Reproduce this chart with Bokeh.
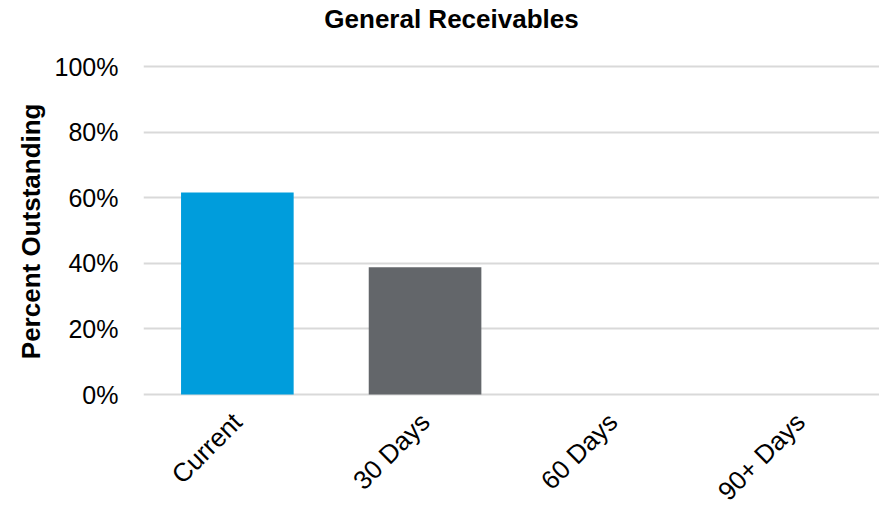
from bokeh.plotting import figure
from bokeh.models import (Range1d, FixedTicker, NumeralTickFormatter, ColumnDataSource, Title,
                          Label, GlobalInlineStyleSheet)
from bokeh.core.properties import value
from bokeh.embed import file_html
from bokeh.resources import INLINE
import math

title_text = "General Receivables"
y_label = "Percent Outstanding"
categories = ["Current", "30 Days", "60 Days", "90+ Days"]
values = [0.616, 0.388, 0.0, 0.0]
colors = ["#009DDC", "#63666A", "#63666A", "#63666A"]
y_ticks = [0, 0.2, 0.4, 0.6, 0.8, 1.0]

xs = list(range(len(categories)))
src = ColumnDataSource(dict(x=xs, top=values, color=colors, cat=categories, base=[0] * len(xs)))

W, H = 879, 505
PX = 328.0  # pixels per unit of y
p = figure(width=W, height=H, output_backend="svg", toolbar_location=None,
           x_range=Range1d(-0.5, -0.5 + 736 / 187.7),
           y_range=Range1d(-(H - 394) / PX, 1 + 66 / PX),
           min_border_left=143, min_border_right=0, min_border_top=0, min_border_bottom=0)
p.stylesheets = [GlobalInlineStyleSheet(css="html, body { overflow: hidden; margin: 0; padding: 0; }")]

p.vbar(x="x", top="top", bottom=0, width=0.6, fill_color="color", line_color=None, source=src)

p.outline_line_color = None
p.background_fill_color = "white"
p.border_fill_color = "white"

p.xgrid.grid_line_color = None
p.ygrid.ticker = FixedTicker(ticks=y_ticks)
p.ygrid.grid_line_color = "#D9D9D9"
p.ygrid.grid_line_width = 2

p.yaxis.ticker = FixedTicker(ticks=y_ticks)
p.yaxis.formatter = NumeralTickFormatter(format="0%")
p.yaxis.axis_line_color = None
p.yaxis.major_tick_line_color = None
p.yaxis.minor_tick_line_color = None
p.yaxis.major_tick_out = 0
p.yaxis.major_tick_in = 0
p.yaxis.minor_tick_out = 0
p.yaxis.major_label_text_font = "Liberation Sans"
p.yaxis.major_label_text_font_size = "25px"
p.yaxis.major_label_text_color = "#000000"
p.yaxis.major_label_standoff = 25

ytitle = Title(text=y_label, text_font="Liberation Sans", text_font_style="bold",
               text_font_size="26px", text_color="#000000", align="right", offset=103,
               vertical_align="bottom", standoff=12)
p.add_layout(ytitle, "left")

p.xaxis.visible = False

p.text(x="x", y="base", text="cat", source=src, angle=math.pi / 4,
       text_align="right", text_baseline="middle", y_offset=23,
       text_font=value("Liberation Sans"), text_font_size="26px", text_color="#000000")

title = Label(x=308, y=H - 18, x_units="screen", y_units="screen", text=title_text,
              text_align="center", text_baseline="alphabetic", text_font="Liberation Sans",
              text_font_style="bold", text_font_size="26px", text_color="#000000")
p.add_layout(title)

open("out.html", "w").write(file_html(p, INLINE))
